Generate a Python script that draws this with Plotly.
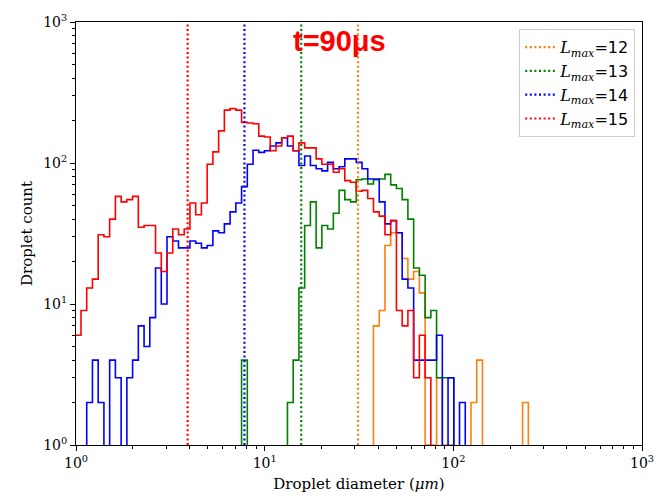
import numpy as np
import plotly.graph_objects as go

# histogram bin grid (log10 of diameter): first edge and bin width
log_lo = -0.004
log_width = 0.0304

# counts per bin, starting at bin 0 (0 = empty bin)
red_counts = [6, 9, 13, 15, 31, 30, 40, 58, 53, 55, 58, 35, 36, 36, 23, 17, 23, 34, 31, 34,
              52, 43, 52, 98, 120, 169, 237, 243, 237, 194, 192, 190, 155, 153, 122, 132, 151, 155, 122, 139,
              128, 128, 107, 98, 98, 86, 91, 75, 73, 63, 64, 56, 45, 42, 31, 39, 9, 7, 9, 3,
              6, 3]
blue_counts = [0, 0, 2, 4, 2, 0, 4, 3, 0, 3, 4, 7, 5, 8, 18, 10, 30, 28, 25, 25,
               28, 27, 25, 26, 33, 32, 37, 45, 52, 68, 98, 123, 119, 122, 132, 139, 151, 132, 122, 96,
               112, 96, 91, 88, 101, 91, 94, 107, 107, 101, 91, 77, 77, 53, 37, 39, 32, 15, 13, 4,
               4, 4, 4, 6, 0, 3, 0, 2]
green_counts = [0, 0, 0, 0, 0, 0, 0, 0, 0, 0, 0, 0, 0, 0, 0, 0, 0, 0, 0, 0,
                0, 0, 0, 0, 0, 0, 0, 0, 0, 4, 0, 0, 0, 0, 0, 0, 0, 2, 4, 13,
                36, 53, 25, 36, 34, 44, 64, 55, 53, 76, 77, 71, 76, 77, 83, 70, 66, 55, 40, 18,
                16, 8, 9, 3, 3, 3]
orange_counts = [0] * 52 + [7, 9, 26, 32, 32, 21, 15, 17, 12, 1, 1, 3, 1, 1, 0, 0, 0, 2, 4,
                            0, 0, 0, 0, 0, 0, 0, 2]

# resolution markers (vertical dotted lines)
lmax_values = [12, 13, 14, 15]
vline_pos = [31.25, 15.625, 7.8125, 3.90625]
colors = ["#ff7f0e", "#008000", "#0000ff", "#ff0000"]
hist_data = [orange_counts, green_counts, blue_counts, red_counts]

x_ticks = [1, 10, 100, 1000]
x_ticktext = ["10<sup>0</sup>", "10<sup>1</sup>", "10<sup>2</sup>", "10<sup>3</sup>"]
y_ticks = [1, 10, 100, 1000]
y_ticktext = ["10<sup>0</sup>", "10<sup>1</sup>", "10<sup>2</sup>", "10<sup>3</sup>"]
minor_vals = [m * 10 ** k for k in range(0, 3) for m in range(2, 10)]

BOTTOM = 0.5


def step_xy(counts):
    n = len(counts)
    edges = 10 ** (log_lo + log_width * np.arange(n + 1))
    ys = [c if c > 0 else BOTTOM for c in counts]
    x = [edges[0]] + list(edges[:-1]) + [edges[-1], edges[-1]]
    y = [BOTTOM] + ys + [ys[-1], BOTTOM]
    return x, y


fig = go.Figure()
for counts, col in zip(hist_data, colors):
    x, y = step_xy(counts)
    fig.add_trace(go.Scatter(x=x, y=y, mode="lines", line=dict(color=col, width=1.6, shape="hv"),
                             showlegend=False, hoverinfo="skip"))

for pos, col, lm in zip(vline_pos, colors, lmax_values):
    name = ("<span style='font-family:DejaVu Serif'><i>L</i><sub><i>max</i></sub></span>"
            "=" + str(lm))
    fig.add_trace(go.Scatter(x=[pos, pos], y=[1, 1000], mode="lines",
                             line=dict(color=col, width=2.2, dash="2px,2.6px"), name=name))

axis_font = dict(family="DejaVu Serif", size=14, color="black")
common = dict(type="log", showgrid=False, zeroline=False, showline=True, linecolor="black",
              linewidth=1, mirror=True, ticks="outside", ticklen=5, tickwidth=1, tickcolor="black",
              tickfont=axis_font,
              minor=dict(ticks="outside", ticklen=3, tickwidth=0.8, tickcolor="black",
                         tickvals=minor_vals, showgrid=False))

fig.update_xaxes(range=[0, 3], tickvals=x_ticks, ticktext=x_ticktext,
                 title=dict(text="Droplet diameter (<i>μm</i>)",
                            font=dict(family="DejaVu Serif", size=15, color="black"), standoff=8),
                 **common)
fig.update_yaxes(range=[0, 3], tickvals=y_ticks, ticktext=y_ticktext,
                 title=dict(text="Droplet count",
                            font=dict(family="DejaVu Serif", size=15, color="black"), standoff=6),
                 **common)

fig.add_annotation(x=0.465, y=0.955, xref="paper", yref="paper", text="<b>t=90μs</b>",
                   showarrow=False, font=dict(family="Liberation Sans", size=29, color="#ff0000"),
                   xanchor="center", yanchor="middle")

fig.update_layout(
    width=666, height=501,
    margin=dict(l=76, r=12, t=15, b=54),
    paper_bgcolor="white", plot_bgcolor="white",
    legend=dict(x=0.988, y=0.983, xanchor="right", yanchor="top",
                bgcolor="rgba(255,255,255,0.8)", bordercolor="#cccccc", borderwidth=1,
                font=dict(family="DejaVu Sans", size=16, color="black"),
                tracegroupgap=0, itemwidth=30),
)

fig.write_html("out.html")
